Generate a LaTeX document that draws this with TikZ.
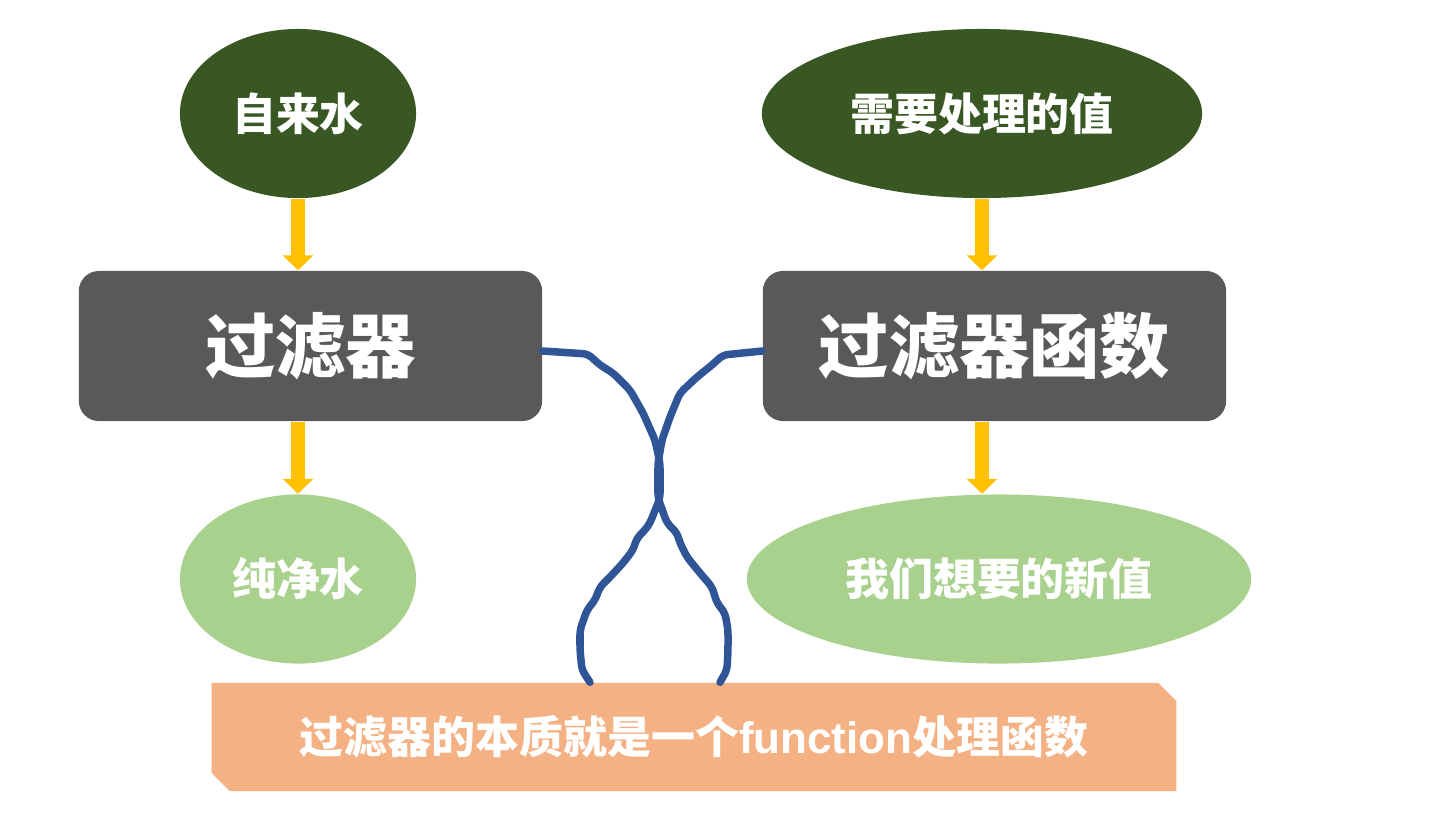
\documentclass[tikz,border=0pt]{standalone}
\usepackage{fontspec}
\setmainfont{Liberation Sans}
\newfontfamily\cjk{Noto Sans CJK SC}
\usetikzlibrary{shapes.geometric,shapes.misc,arrows.meta}

\definecolor{darkleaf}{HTML}{385723}
\definecolor{lightleaf}{HTML}{A9D18E}
\definecolor{boxgray}{HTML}{595959}
\definecolor{flowyellow}{HTML}{FFC000}
\definecolor{wireblue}{HTML}{2F5597}
\definecolor{notepeach}{HTML}{F4B183}

\tikzset{
  blob/.style={ellipse, inner sep=0pt, minimum height=1.69cm, text=white,
    font=\cjk\bfseries\fontsize{12.5}{15}\selectfont},
  source/.style={blob, fill=darkleaf},
  result/.style={blob, fill=lightleaf},
  filterbox/.style={rectangle, rounded corners=0.2cm, fill=boxgray,
    minimum width=4.63cm, minimum height=1.5cm, text=white,
    font=\cjk\bfseries\fontsize{20}{24}\selectfont},
  flow/.style={draw=flowyellow, line width=0.14cm,
    -{Triangle[width=0.3cm,length=0.15cm]}},
  wire/.style={draw=wireblue, line width=0.075cm, rounded corners=0.05cm,
    line cap=round, line join=round},
  notebar/.style={chamfered rectangle,
    chamfered rectangle corners={north east,south west},
    chamfered rectangle xsep=0.09cm, chamfered rectangle ysep=0.09cm,
    fill=notepeach, minimum width=9.64cm, minimum height=1.08cm,
    inner sep=0pt, text=white, font=\cjk\bfseries\fontsize{12.5}{15}\selectfont}
}

\begin{document}
\begin{tikzpicture}[x=0.01cm,y=-0.01cm]
  \useasboundingbox (0,0) rectangle (1438,832);

  \node[source, minimum width=2.36cm] (water) at (298,113.5) {自来水};
  \node[source, minimum width=4.40cm] (value) at (982,113.5) {需要处理的值};
  \node[filterbox] (filter) at (310.5,346) {过滤器};
  \node[filterbox] (fn) at (994.5,346) {过滤器函数};
  \node[result, minimum width=2.36cm] (pure) at (298,579) {纯净水};
  \node[result, minimum width=5.04cm] (newval) at (999,579) {我们想要的新值};
  \node[notebar] (note) at (694,737) {过滤器的本质就是一个{\rmfamily function}处理函数};

  \draw[flow] (water.south) -- (water.south |- filter.north);
  \draw[flow] (water.south |- filter.south) -- (water.south |- pure.north);
  \draw[flow] (value.south) -- (value.south |- fn.north);
  \draw[flow] (value.south |- fn.south) -- (value.south |- newval.north);

  % wires down to the note
  \draw[wire] ([yshift=-0.05cm]filter.east) -- (588,354) -- (600,365) -- (613,373)
    -- (630,390) -- (643,413) -- (655,440) -- (660,463) -- (660,498) -- (650,523)
    -- (645,530) -- (637,538) -- (633,550) -- (623,563) -- (610,577) -- (600,587)
    -- (595,600) -- (587,610) -- (580,630) -- (580,650) -- (582,670)
    -- (590,0 |- note.north);
  \draw[wire] ([yshift=-0.05cm]fn.west) -- (723,355) -- (712,365) -- (697,377)
    -- (680,393) -- (670,417) -- (662,440) -- (658,463) -- (658,498) -- (667,523)
    -- (677,533) -- (680,543) -- (687,557) -- (700,573) -- (712,587) -- (717,603)
    -- (725,613) -- (728,630) -- (728,650) -- (727,670)
    -- (720,0 |- note.north);
\end{tikzpicture}
\end{document}
